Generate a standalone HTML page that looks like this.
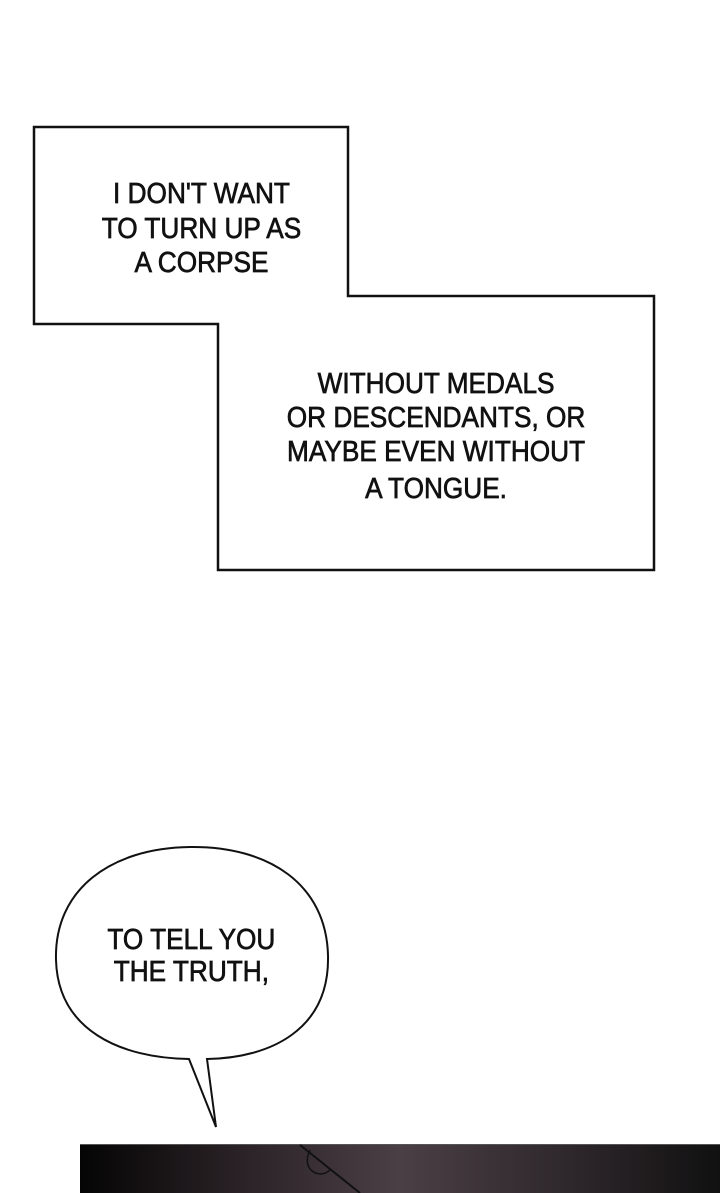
<!DOCTYPE html>
<html><head><meta charset="utf-8"><style>
html,body{margin:0;padding:0;background:#fff;}
body{width:720px;height:1193px;position:relative;overflow:hidden;}
svg{position:absolute;left:0;top:0;}
text{font-family:"Liberation Sans",sans-serif;font-size:28.5px;fill:#111;stroke:#111;stroke-width:0.7;text-anchor:middle;}
</style></head><body>
<svg width="720" height="1193" viewBox="0 0 720 1193">
<defs><linearGradient id="g" x1="0" x2="1" y1="0" y2="0">
<stop offset="0" stop-color="#050505"/><stop offset="0.25" stop-color="#2a2226"/><stop offset="0.5" stop-color="#4a3f45"/><stop offset="0.8" stop-color="#2a2428"/><stop offset="1" stop-color="#111"/></linearGradient></defs>
<polygon points="34,127 348,127 348,296 654,296 654,570 218,570 218,324 34,324" fill="#fff" stroke="#111" stroke-width="2.5"/>
<path d="M189,1059 C120,1058 58,1030 56,960 C54,890 110,848 190,847 C270,846 326,885 328,955 C330,1030 270,1058 207,1059 L216,1127 Z" fill="#fff" stroke="#111" stroke-width="2"/>
<g transform="scale(0.92,1)">
<text x="219" y="203">I DON'T WANT</text>
<text x="219" y="238">TO TURN UP AS</text>
<text x="219" y="272">A CORPSE</text>
<text x="474" y="393">WITHOUT MEDALS</text>
<text x="474" y="427">OR DESCENDANTS, OR</text>
<text x="474" y="461">MAYBE EVEN WITHOUT</text>
<text x="474" y="498">A TONGUE.</text>
<text x="208" y="949">TO TELL YOU</text>
<text x="208" y="981">THE TRUTH,</text>
</g>
<rect x="80" y="1144" width="640" height="49" fill="url(#g)"/>
<line x1="80" y1="1144.5" x2="720" y2="1144.5" stroke="#555" stroke-width="1"/>
<path d="M310,1150 C300,1170 320,1180 330,1170" stroke="#111" fill="none" stroke-width="1.5"/>
<path d="M300,1145 L360,1193" stroke="#111" fill="none" stroke-width="2"/>
</svg>
</body></html>
